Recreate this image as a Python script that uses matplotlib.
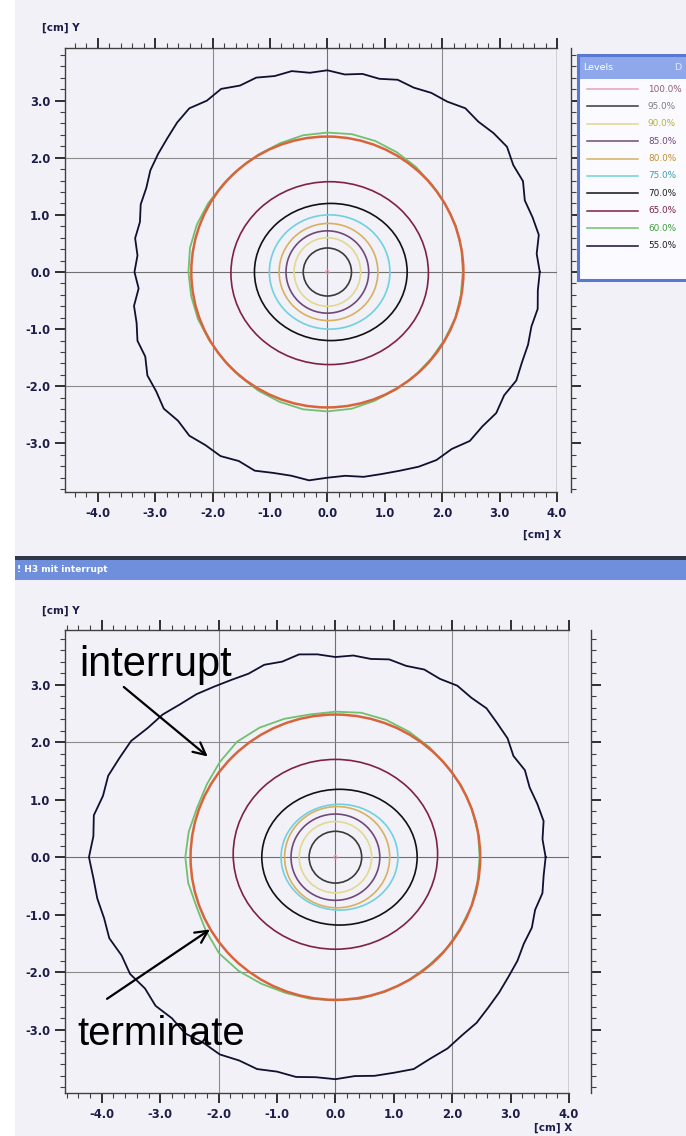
import numpy as np
import matplotlib
matplotlib.use("Agg")
import matplotlib.pyplot as plt
from matplotlib.patches import Ellipse, Circle, Rectangle
from matplotlib.ticker import MultipleLocator
from matplotlib.font_manager import FontProperties

# ---------------- data ----------------
level_labels = ["100.0%", "95.0%", "90.0%", "85.0%", "80.0%", "75.0%", "70.0%", "65.0%", "60.0%", "55.0%"]
level_colors = ["#e8a0b8", "#3a3a3a", "#e2d890", "#704878", "#d8b060", "#70d0e0", "#111111", "#802048", "#70c070", "#101030"]
legend_text_colors = ["#906070", "#808080", "#b8b040", "#704878", "#c09030", "#40a0a8", "#202020", "#802048", "#40a040", "#202020"]

# inner rings (levels 95% .. 65%) : semi-axes and centres in cm
top_ring_rx = [0.42, 0.58, 0.72, 0.86, 1.05, 1.33, 1.72]
top_ring_ry = [0.42, 0.60, 0.72, 0.85, 1.00, 1.20, 1.60]
top_ring_cx = [0.0, 0.0, 0.0, 0.02, 0.04, 0.06, 0.04]
top_ring_cy = [0.0, 0.0, 0.0, 0.0, 0.0, 0.0, -0.02]

bot_ring_rx = [0.45, 0.62, 0.76, 0.90, 1.00, 1.33, 1.75]
bot_ring_ry = [0.45, 0.62, 0.75, 0.88, 0.92, 1.18, 1.65]
bot_ring_cx = [0.0, 0.0, 0.0, 0.03, 0.07, 0.07, 0.0]
bot_ring_cy = [0.0, 0.0, 0.0, 0.0, 0.0, 0.0, 0.05]

# fitted circle radius (orange-red)
top_fit_r = 2.37
bot_fit_r = 2.48

# 60 % contour radius, every 10 degrees starting at +x
top_c60_r = [2.36, 2.37, 2.38, 2.37, 2.38, 2.40, 2.42, 2.44, 2.45, 2.44, 2.43, 2.40,
             2.38, 2.37, 2.38, 2.40, 2.42, 2.43, 2.42, 2.41, 2.40, 2.38, 2.37, 2.38,
             2.40, 2.42, 2.44, 2.44, 2.43, 2.40, 2.38, 2.37, 2.36, 2.36, 2.37, 2.36]
bot_c60_r = [2.47, 2.48, 2.48, 2.49, 2.48, 2.50, 2.52, 2.54, 2.55, 2.53, 2.52, 2.56,
             2.60, 2.62, 2.58, 2.54, 2.52, 2.55, 2.57, 2.56, 2.53, 2.56, 2.60, 2.58,
             2.54, 2.51, 2.50, 2.49, 2.50, 2.49, 2.48, 2.47, 2.48, 2.47, 2.48, 2.47]

# 55 % outer contour radius, every 5 degrees starting at +x
top_c55_r = [3.70, 3.66, 3.74, 3.70, 3.66, 3.76, 3.74, 3.82, 3.78, 3.72, 3.74, 3.64,
             3.62, 3.56, 3.58, 3.50, 3.52, 3.47, 3.53, 3.50, 3.57, 3.55, 3.62, 3.60,
             3.70, 3.66, 3.74, 3.70, 3.64, 3.60, 3.56, 3.48, 3.46, 3.38, 3.40, 3.32,
             3.36, 3.30, 3.42, 3.44, 3.52, 3.50, 3.62, 3.64, 3.72, 3.68, 3.74, 3.70,
             3.72, 3.65, 3.70, 3.64, 3.62, 3.66, 3.60, 3.58, 3.64, 3.66, 3.70, 3.76,
             3.80, 3.78, 3.86, 3.82, 3.84, 3.76, 3.80, 3.74, 3.72, 3.68, 3.72, 3.68]
bot_c55_r = [3.60, 3.56, 3.62, 3.58, 3.54, 3.58, 3.52, 3.60, 3.62, 3.66, 3.62, 3.64,
             3.58, 3.60, 3.54, 3.56, 3.50, 3.52, 3.48, 3.54, 3.58, 3.52, 3.56, 3.52,
             3.56, 3.62, 3.70, 3.76, 3.86, 3.92, 4.04, 4.08, 4.14, 4.12, 4.20, 4.16,
             4.22, 4.16, 4.14, 4.10, 4.12, 4.04, 4.06, 3.98, 4.02, 3.96, 4.00, 3.94,
             3.96, 3.90, 3.92, 3.86, 3.88, 3.84, 3.86, 3.82, 3.86, 3.88, 3.92, 3.86,
             3.84, 3.78, 3.76, 3.70, 3.66, 3.62, 3.60, 3.56, 3.58, 3.54, 3.60, 3.58]

x_ticks = [-4, -3, -2, -1, 0, 1, 2, 3, 4]
y_ticks = [-3, -2, -1, 0, 1, 2, 3]
grid_vals = [-2, 0, 2]

# ---------------- figure ----------------
W, H = 686, 1136
fig = plt.figure(figsize=(W / 100, H / 100), dpi=100)
fig.patch.set_facecolor("white")
BG = "#f1f1f7"
NAVY = "#1c1c48"

bg = fig.add_axes([0, 0, 1, 1], zorder=-5)
bg.set_xlim(0, W)
bg.set_ylim(H, 0)
bg.axis("off")
bg.add_patch(Rectangle((15, 0), W - 15, 557, color=BG, lw=0))
bg.add_patch(Rectangle((15, 580), W - 15, H - 580, color=BG, lw=0))
bg.add_patch(Rectangle((15, 556), W - 15, 4, color="#303848", lw=0))
bg.add_patch(Rectangle((15, 560), W - 15, 20, color="#6f8fdc", lw=0))
bg.text(17, 570, "! H3 mit interrupt", color="white", fontsize=6.5, fontweight="bold",
        va="center", ha="left")

tick_fp = FontProperties(family=["Liberation Sans Narrow", "DejaVu Sans"], weight="bold", size=8.3)


def make_panel(rect_px, xlim, ylim, ylab_px, xlab_px, right_offset):
    l, t, r, b = rect_px
    ax = fig.add_axes([l / W, 1 - b / H, (r - l) / W, (b - t) / H])
    ax.set_facecolor(BG)
    for s in ax.spines.values():
        s.set_color("#404040")
        s.set_linewidth(1.0)
    ax.spines["right"].set_position(("outward", right_offset))
    ax.set_xlim(*xlim)
    ax.set_ylim(*ylim)
    ax.set_xticks(x_ticks)
    ax.set_yticks(y_ticks)
    ax.set_xticklabels([f"{v:.1f}" for v in x_ticks])
    ax.set_yticklabels([f"{v:.1f}" for v in y_ticks])
    ax.xaxis.set_minor_locator(MultipleLocator(0.2))
    ax.yaxis.set_minor_locator(MultipleLocator(0.2))
    ax.tick_params(which="major", direction="out", length=7.5, width=1.3, color="#202020",
                   top=True, right=True, labeltop=False, labelright=False, pad=3,
                   labelcolor=NAVY)
    ax.tick_params(which="minor", direction="out", length=3.5, width=0.8, color="#404040",
                   top=True, right=True)
    for lbl in ax.get_xticklabels() + ax.get_yticklabels():
        lbl.set_fontproperties(tick_fp)
    ax.axvline(xlim[1], color="#404040", lw=1.0)
    for g in grid_vals:
        ax.axvline(g, color="#8a8a8a" if g else "#707070", lw=0.8, zorder=0.5)
        ax.axhline(g, color="#8a8a8a" if g else "#707070", lw=0.8, zorder=0.5)
    bg.text(ylab_px[0], ylab_px[1], "[cm] Y", color=NAVY, fontsize=7.5, fontweight="bold",
            ha="left", va="center")
    bg.text(xlab_px[0], xlab_px[1], "[cm] X", color=NAVY, fontsize=7.5, fontweight="bold",
            ha="right", va="center")
    return ax


def closed(r_list):
    a = np.deg2rad(np.arange(0, 360, 360 / len(r_list)))
    r = np.array(r_list)
    x = np.append(r * np.cos(a), r[0])
    y = np.append(r * np.sin(a), 0.0)
    return x, y


def draw_rings(ax, rx, ry, cx, cy, fit_r, c60, c55):
    ax.add_patch(Circle((0, 0), 0.03, fill=False, color=level_colors[0], lw=0.8))
    for i in range(len(rx)):
        ax.add_patch(Ellipse((cx[i], cy[i]), 2 * rx[i], 2 * ry[i], fill=False,
                             color=level_colors[i + 1], lw=1.2))
    x60, y60 = closed(c60)
    ax.plot(x60, y60, color=level_colors[8], lw=1.3)
    ax.add_patch(Circle((0, 0), fit_r, fill=False, color="#d8643c", lw=1.8, zorder=3))
    x55, y55 = closed(c55)
    ax.plot(x55, y55, color=level_colors[9], lw=1.3)


# top panel
ax1 = make_panel((65, 48, 557, 492), (-4.57, 4.0), (-3.85, 3.92), (42, 28), (561, 535), 10)
draw_rings(ax1, top_ring_rx, top_ring_ry, top_ring_cx, top_ring_cy, top_fit_r, top_c60_r, top_c55_r)

# bottom panel
ax2 = make_panel((65, 630, 569, 1093), (-4.63, 4.0), (-4.10, 3.95), (42, 611), (572, 1128), 16)
draw_rings(ax2, bot_ring_rx, bot_ring_ry, bot_ring_cx, bot_ring_cy, bot_fit_r, bot_c60_r, bot_c55_r)

ax2.text(-4.39, 3.15, "interrupt", fontsize=30, family="Liberation Sans", ha="left",
         va="baseline", color="black", zorder=5)
ax2.text(-4.41, -3.27, "terminate", fontsize=29, family="Liberation Sans", ha="left",
         va="baseline", color="black", zorder=5)
ax2.annotate("", xy=(-2.15, 1.72), xytext=(-3.66, 2.99),
             arrowprops=dict(arrowstyle="->", color="black", lw=1.6, mutation_scale=22))
ax2.annotate("", xy=(-2.11, -1.23), xytext=(-3.95, -2.49),
             arrowprops=dict(arrowstyle="->", color="black", lw=1.6, mutation_scale=22))

# legend box (top panel)
lax = fig.add_axes([578 / W, 1 - 280 / H, (720 - 578) / W, (280 - 55) / H])
lax.set_xlim(0, 142)
lax.set_ylim(225, 0)
lax.set_xticks([])
lax.set_yticks([])
lax.set_facecolor("#fafaff")
for s in lax.spines.values():
    s.set_color("#5a78d0")
    s.set_linewidth(2.2)
lax.add_patch(Rectangle((0, 0), 142, 24, color="#8fa8ec", lw=0))
lax.text(5, 12, "Levels", color="white", fontsize=6.8, va="center", ha="left")
lax.text(96, 12, "D", color="#e0e8ff", fontsize=6.8, va="center", ha="left")
leg_fp = FontProperties(family=["Liberation Sans Narrow", "DejaVu Sans"], size=6.4)
for i, (lab, col, tcol) in enumerate(zip(level_labels, level_colors, legend_text_colors)):
    yy = 34 + i * 17.4
    lax.plot([9, 60], [yy, yy], color=col, lw=1.1)
    lax.text(70, yy, lab, color=tcol, va="center", ha="left", fontproperties=leg_fp)

fig.savefig("out.png", dpi=100)
